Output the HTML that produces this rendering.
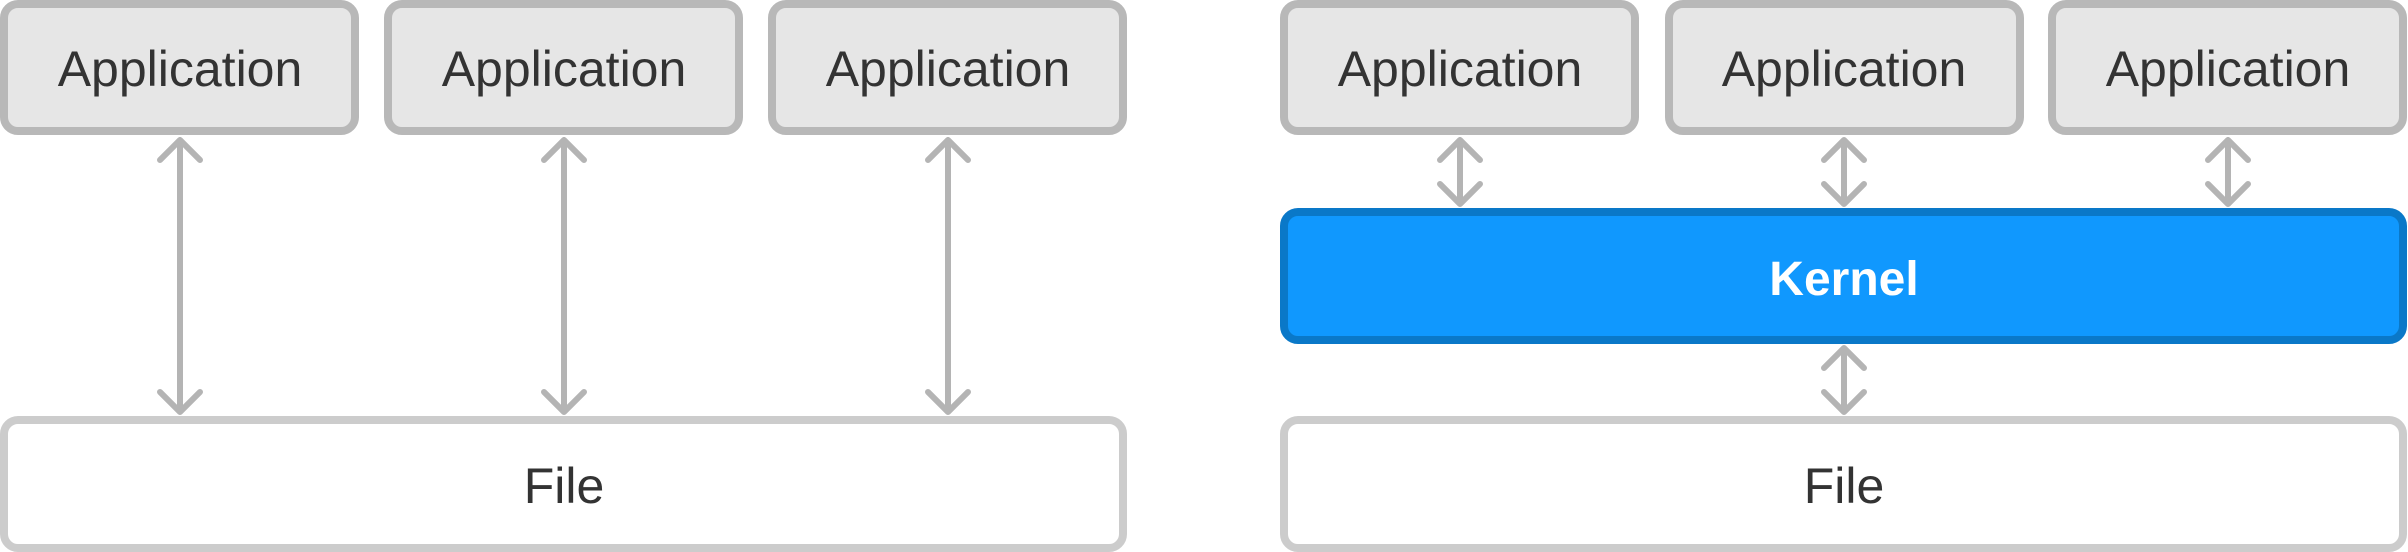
<!DOCTYPE html>
<html><head><meta charset="utf-8"><style>html,body{margin:0;padding:0;background:#fff;width:2408px;height:552px;overflow:hidden}</style></head>
<body>
<svg width="2408" height="552" viewBox="0 0 2408 552" xmlns="http://www.w3.org/2000/svg" font-family="Liberation Sans, sans-serif">
<g fill="#e6e6e6" stroke="#b8b8b8" stroke-width="8">
<rect x="4" y="4" width="351" height="127" rx="14"/>
<rect x="388" y="4" width="351" height="127" rx="14"/>
<rect x="772" y="4" width="351" height="127" rx="14"/>
<rect x="1284" y="4" width="351" height="127" rx="14"/>
<rect x="1669" y="4" width="351" height="127" rx="14"/>
<rect x="2052" y="4" width="351" height="127" rx="14"/>
</g>
<g fill="#fff" stroke="#cccccc" stroke-width="8">
<rect x="4" y="420" width="1119" height="128" rx="14"/>
<rect x="1284" y="420" width="1119" height="128" rx="14"/>
</g>
<rect x="1284" y="212" width="1119" height="128" rx="14" fill="#1098fe" stroke="#0a78c8" stroke-width="8"/>
<g stroke="#b4b4b4" stroke-width="6" fill="none" stroke-linecap="round" stroke-linejoin="round">
<path d="M180 140V412M160 160L180 140L200 160M160 392L180 412L200 392"/>
<path d="M564 140V412M544 160L564 140L584 160M544 392L564 412L584 392"/>
<path d="M948 140V412M928 160L948 140L968 160M928 392L948 412L968 392"/>
<path d="M1460 140V204M1440 160L1460 140L1480 160M1440 184L1460 204L1480 184"/>
<path d="M1844 140V204M1824 160L1844 140L1864 160M1824 184L1844 204L1864 184"/>
<path d="M2228 140V204M2208 160L2228 140L2248 160M2208 184L2228 204L2248 184"/>
<path d="M1844 348V412M1824 368L1844 348L1864 368M1824 392L1844 412L1864 392"/>
</g>
<g fill="#333" font-size="50" text-anchor="middle">
<text x="180" y="86">Application</text>
<text x="564" y="86">Application</text>
<text x="948" y="86">Application</text>
<text x="1460" y="86">Application</text>
<text x="1844" y="86">Application</text>
<text x="2228" y="86">Application</text>
<text x="564" y="503">File</text>
<text x="1844" y="503">File</text>
</g>
<text x="1844" y="295" fill="#fff" font-size="48" font-weight="bold" text-anchor="middle">Kernel</text>
</svg>
</body></html>
